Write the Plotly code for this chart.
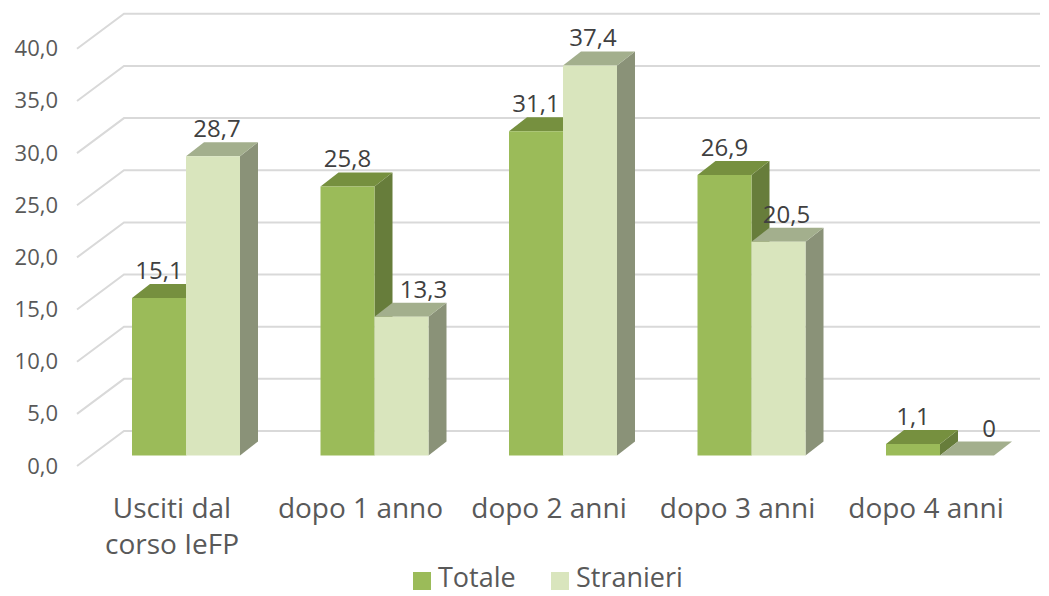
import plotly.graph_objects as go

# --- data ---
categories = ["Usciti dal<br>corso IeFP", "dopo 1 anno", "dopo 2 anni", "dopo 3 anni", "dopo 4 anni"]
series_names = ["Totale", "Stranieri"]
totale = [15.1, 25.8, 31.1, 26.9, 1.1]
stranieri = [28.7, 13.3, 37.4, 20.5, 0]
totale_labels = ["15,1", "25,8", "31,1", "26,9", "1,1"]
stranieri_labels = ["28,7", "13,3", "37,4", "20,5", "0"]
y_ticks = [0, 5, 10, 15, 20, 25, 30, 35, 40]
y_tick_labels = ["0,0", "5,0", "10,0", "15,0", "20,0", "25,0", "30,0", "35,0", "40,0"]

# --- style / layout ---
W, H = 1049, 596
PX_X = 188.5            # pixels per category
PX_Y = 10.43            # pixels per value unit
ORIGIN_X, ORIGIN_Y = 186.0, 455.5

def px_x(p):
    return (p - ORIGIN_X) / PX_X

def px_y(p):
    return (ORIGIN_Y - p) / PX_Y

BAR_W = 54 / PX_X
DX, DY = 18 / PX_X, 14 / PX_Y            # bar depth
GRID_L = px_x(77)                        # front end of the grid, x
GRID_FRONT = px_y(466)                   # front end of the grid, y shift
GRID_B = px_x(124)
GRID_BACK = px_y(431)
GRID_R = px_x(1040)
stranieri_label_shift = [4, 22, 3, 8, 22]   # px
TXT = "#595959"
FONT = "Open Sans"
C_T, C_T_TOP, C_T_SIDE = "#9BBB59", "#76903F", "#677D3B"
C_S, C_S_TOP, C_S_SIDE = "#D9E5BD", "#A3AF8D", "#8A9278"

def path(pts):
    return "M " + " L ".join(f"{x:.5f},{y:.5f}" for x, y in pts)

shapes = []
for v in y_ticks:
    shapes.append(dict(type="path", xref="x", yref="y", layer="below",
                       path=path([(GRID_L, v + GRID_FRONT), (GRID_B, v + GRID_BACK), (GRID_R, v + GRID_BACK)]),
                       line=dict(color="#D9D9D9", width=2)))

def box(x0, v, top, side):
    x1 = x0 + BAR_W
    if v > 0:
        shapes.append(dict(type="path", xref="x", yref="y", layer="below",
                           path=path([(x1, 0), (x1 + DX, DY), (x1 + DX, v + DY), (x1, v)]) + " Z",
                           fillcolor=side, line=dict(width=0)))
    shapes.append(dict(type="path", xref="x", yref="y", layer="below",
                       path=path([(x0, v), (x1, v), (x1 + DX, v + DY), (x0 + DX, v + DY)]) + " Z",
                       fillcolor=top, line=dict(width=0)))

for i in range(len(categories)):
    box(i - BAR_W, totale[i], C_T_TOP, C_T_SIDE)
for i in range(len(categories)):
    box(i, stranieri[i], C_S_TOP, C_S_SIDE)

xs = list(range(len(categories)))
fig = go.Figure()
fig.add_bar(x=xs, y=totale, name=series_names[0], marker=dict(color=C_T, line_width=0), showlegend=False)
fig.add_bar(x=xs, y=stranieri, name=series_names[1], marker=dict(color=C_S, line_width=0), showlegend=False)

# legend keys, drawn as square marker + text so that they fit the bottom edge
for name, c, key_px in zip(series_names, (C_T, C_S), (422, 560)):
    fig.add_scatter(x=[px_x(key_px)], y=[px_y(581)], mode="markers", marker=dict(symbol="square", size=18, color=c),
                    showlegend=False, hoverinfo="skip")
    fig.add_scatter(x=[px_x(key_px + 16)], y=[px_y(580)], mode="text", text=[name], textposition="middle right",
                    showlegend=False, hoverinfo="skip", textfont=dict(family=FONT, size=27, color=TXT))

LBL_UP = 25 / PX_Y
fig.add_scatter(x=[i - BAR_W / 2 for i in xs], y=[v + LBL_UP for v in totale], mode="text",
                text=totale_labels, textposition="middle center", showlegend=False, hoverinfo="skip",
                textfont=dict(family=FONT, size=24, color="#404040"))
fig.add_scatter(x=[i + BAR_W / 2 + s / PX_X for i, s in zip(xs, stranieri_label_shift)],
                y=[v + LBL_UP for v in stranieri], mode="text",
                text=stranieri_labels, textposition="middle center", showlegend=False, hoverinfo="skip",
                textfont=dict(family=FONT, size=24, color="#404040"))
# value axis labels
fig.add_scatter(x=[px_x(58)] * len(y_ticks), y=[v + GRID_FRONT - 2 / PX_Y for v in y_ticks], mode="text",
                text=y_tick_labels, textposition="middle left", showlegend=False, hoverinfo="skip",
                textfont=dict(family=FONT, size=22, color=TXT))

fig.update_layout(
    width=W, height=H, autosize=False,
    margin=dict(l=0, r=0, t=0, b=0, autoexpand=False),
    paper_bgcolor="white", plot_bgcolor="white",
    barmode="group", bargap=1 - 2 * BAR_W, bargroupgap=0,
    shapes=shapes, showlegend=False,
    font=dict(family=FONT, size=28, color=TXT),
    xaxis=dict(range=[-ORIGIN_X / PX_X, (W - ORIGIN_X) / PX_X],
               tickvals=[i - 14 / PX_X for i in xs], ticktext=categories,
               showgrid=False, zeroline=False, showline=False, ticks="", showticklabels=True,
               tickfont=dict(family=FONT, size=28, color=TXT), automargin=False, anchor="free", position=0.18,
               fixedrange=True, tickangle=0),
    yaxis=dict(range=[(ORIGIN_Y - H) / PX_Y, ORIGIN_Y / PX_Y], visible=False, fixedrange=True),
)
fig.write_html("out.html", config=dict(displayModeBar=False),
               post_script="document.body.style.margin='0';")
